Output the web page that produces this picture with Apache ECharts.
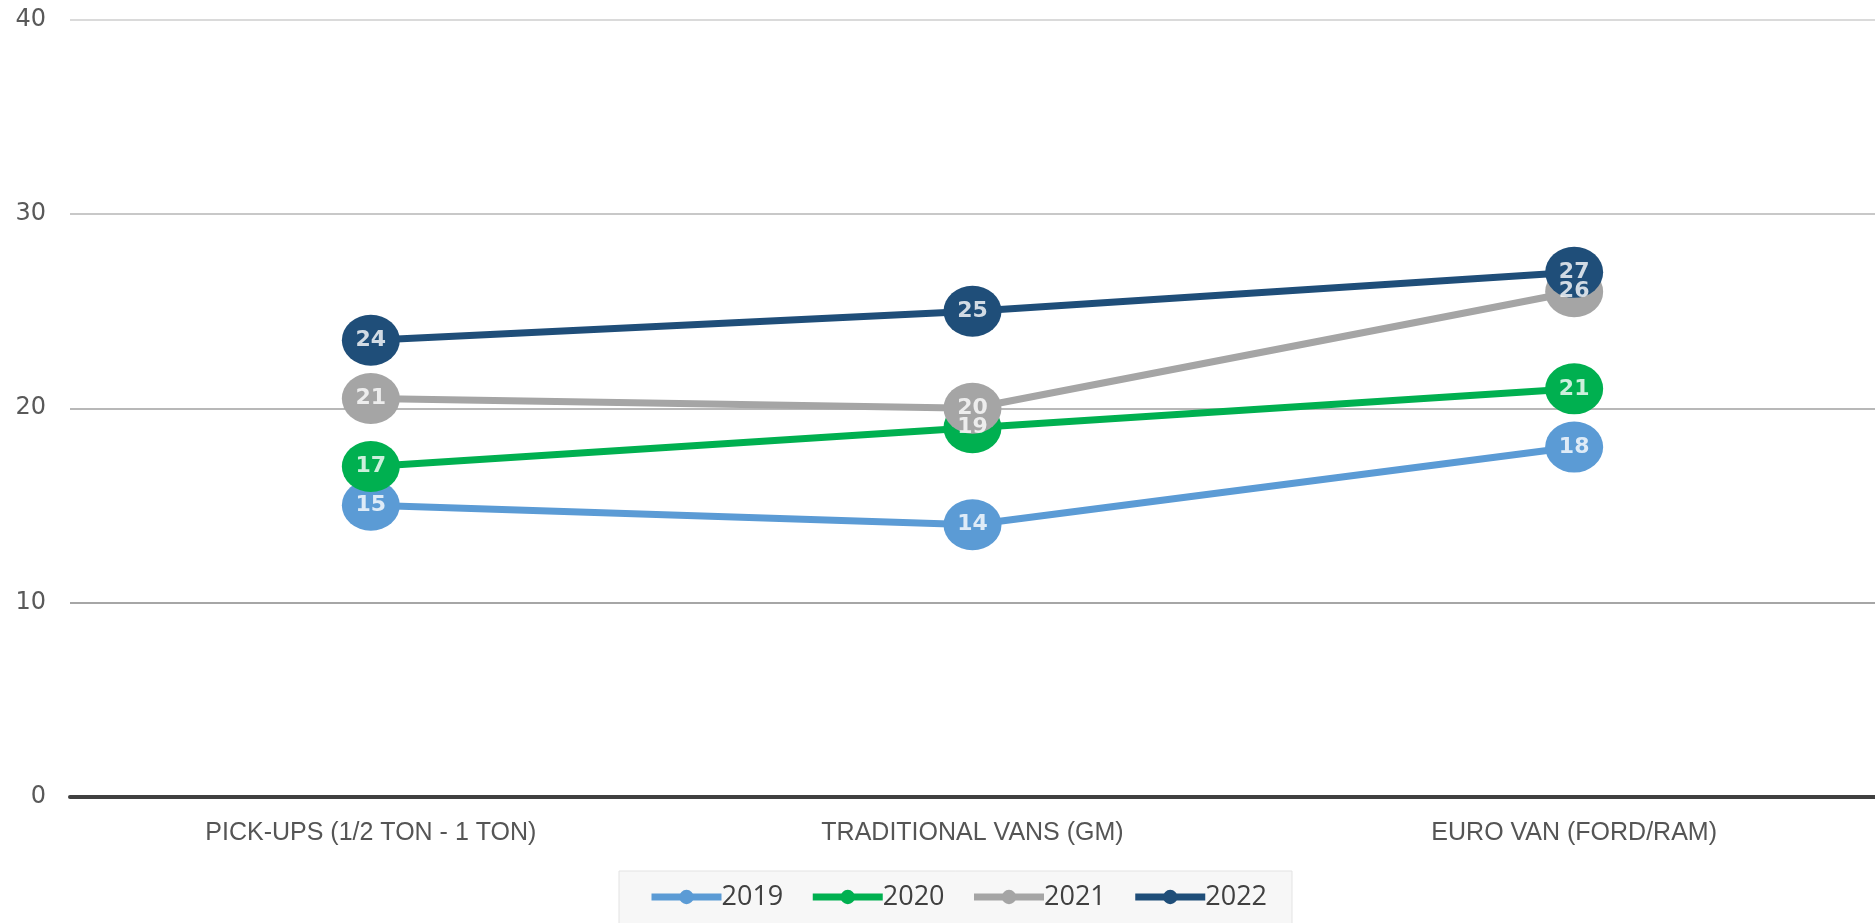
<!DOCTYPE html>
<html>
<head>
<meta charset="utf-8">
<title>Vehicle categories by year</title>
<script src="https://cdn.jsdelivr.net/npm/echarts@6/dist/echarts.min.js"></script>
<style>
  html, body { margin: 0; padding: 0; background: #ffffff; }
  #chart { width: 1875px; height: 923px; }
</style>
</head>
<body>
<div id="chart"></div>
<script>
// Categories along the x axis
const categories = ['PICK-UPS (1/2 TON - 1 TON)', 'TRADITIONAL VANS (GM)', 'EURO VAN (FORD/RAM)'];

// One series per year
const years = ['2019', '2020', '2021', '2022'];
const values2019 = [15, 14, 18];
const values2020 = [17, 19, 21];
const values2021 = [20.5, 20, 26];
const values2022 = [23.5, 25, 27];

// Value axis ticks
const yTicks = [0, 10, 20, 30, 40];

const seriesValues = [values2019, values2020, values2021, values2022];
const seriesColors = ['#5b9bd5', '#00b050', '#a5a5a5', '#1f4e79'];

const chart = echarts.init(document.getElementById('chart'), null, { renderer: 'canvas' });

// Lines with large round markers, one per year
const lineSeries = years.map((name, i) => ({
  name: name,
  type: 'line',
  data: seriesValues[i],
  symbol: 'circle',
  symbolSize: [58, 51],
  showAllSymbol: true,
  lineStyle: { width: 7, color: seriesColors[i] },
  itemStyle: { color: seriesColors[i] },
  z: 2 + i,
  label: { show: false },
  emphasis: { disabled: true },
  animation: false
}));

// Value labels kept above every marker so overlapping points stay readable
const labelSeries = years.map((name, i) => ({
  name: name + ' labels',
  type: 'scatter',
  data: seriesValues[i],
  symbol: 'circle',
  symbolSize: 2,
  itemStyle: { color: 'rgba(0,0,0,0)' },
  z: 20,
  silent: true,
  label: {
    show: true,
    position: 'inside',
    color: '#ffffff',
    fontFamily: 'DejaVu Sans',
    fontWeight: 'bold',
    fontSize: 22,
    formatter: p => String(Math.round(p.value))
  },
  labelLayout: { hideOverlap: false },
  emphasis: { disabled: true },
  animation: false
}));

chart.setOption({
  backgroundColor: '#ffffff',
  animation: false,
  grid: { left: 70, right: -7, top: 20, bottom: 126.5, containLabel: false },
  xAxis: {
    type: 'category',
    data: categories,
    boundaryGap: true,
    axisLine: { show: true, lineStyle: { color: '#404040', width: 4 } },
    axisTick: { show: false },
    axisLabel: {
      color: '#555555',
      fontFamily: 'Liberation Sans',
      fontSize: 25,
      margin: 24
    },
    splitLine: { show: false }
  },
  yAxis: {
    type: 'value',
    min: yTicks[0],
    max: yTicks[yTicks.length - 1],
    interval: 10,
    axisLine: { show: false },
    axisTick: { show: false },
    axisLabel: {
      color: '#595959',
      fontFamily: 'DejaVu Sans',
      fontSize: 24,
      margin: 24
    },
    splitLine: {
      show: true,
      lineStyle: { color: ['#999999', '#a6a6a6', '#b8b8b8', '#c8c8c8', '#dadada'], width: 2 }
    }
  },
  legend: {
    data: years,
    left: 619,
    top: 871,
    orient: 'horizontal',
    itemWidth: 70,
    itemHeight: 18,
    itemGap: 26,
    padding: [12, 25, 40, 29],
    backgroundColor: '#f7f7f7',
    borderColor: '#e3e3e3',
    borderWidth: 1,
    lineStyle: { width: 7 },
    textStyle: {
      color: '#404040',
      fontFamily: 'Open Sans',
      fontSize: 27,
      lineHeight: 28,
      padding: [0, 0, 0, -5]
    },
    selectedMode: false
  },
  series: lineSeries.concat(labelSeries)
});
</script>
</body>
</html>
